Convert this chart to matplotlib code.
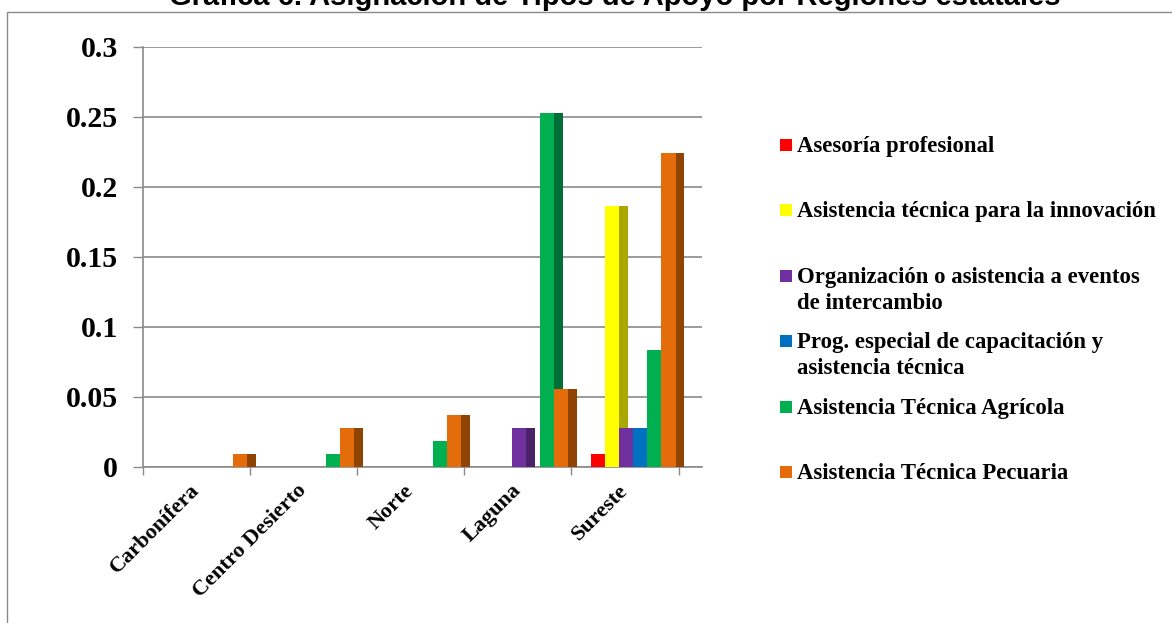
import numpy as np
import matplotlib.pyplot as plt
from matplotlib.patches import Rectangle

regiones = ['Carbonífera', 'Centro Desierto', 'Norte', 'Laguna', 'Sureste']

series = ['Asesoría profesional',
          'Asistencia técnica para la innovación',
          'Organización o asistencia a eventos\nde intercambio',
          'Prog. especial de capacitación y\nasistencia técnica',
          'Asistencia Técnica Agrícola',
          'Asistencia Técnica Pecuaria']

asesoria = [0, 0, 0, 0, 0.0089]
innovacion = [0, 0, 0, 0, 0.1864]
eventos = [0, 0, 0, 0.0274, 0.0274]
prog_especial = [0, 0, 0, 0, 0.0274]
agricola = [0, 0.0089, 0.0184, 0.2524, 0.0834]
pecuaria = [0.0089, 0.0274, 0.0369, 0.0553, 0.2243]

valores = [asesoria, innovacion, eventos, prog_especial, agricola, pecuaria]
colores = ['#FF0000', '#FFFF00', '#7030A0', '#0070C0', '#00B050', '#E46C0A']
sombras = ['#B00000', '#A8A800', '#4B2168', '#004E86', '#007038', '#8F4404']

W, H = 1172, 623
fig = plt.figure(figsize=(W / 100, H / 100), dpi=100)
ax = fig.add_axes([142.7 / W, 156.3 / H, (702 - 142.7) / W, 420 / H])

gris = '#8a8a8a'
serif = 'Liberation Serif'

# barras con efecto 3D: cara frontal + lateral oscuro
ancho = 0.1314
lado = 0.081
inicio = 0.184
x0 = np.arange(len(regiones))
for j, vals in enumerate(valores):
    x = x0 + inicio + j * ancho
    ax.bar(x, vals, width=ancho, align='edge', color=colores[j], lw=0, zorder=3 + 2 * j)
    ax.bar(x + ancho, vals, width=lado, align='edge', color=sombras[j], lw=0, zorder=2 + 2 * j)

ax.set_xlim(0, 560 / 107.3)
ax.set_ylim(0, 0.3)
yt = [0, 0.05, 0.1, 0.15, 0.2, 0.25, 0.3]
ax.set_yticks(yt, ['0', '0.05', '0.1', '0.15', '0.2', '0.25', '0.3'],
              fontfamily=serif, fontweight='bold', fontsize=21.5)
ax.yaxis.grid(True, color=gris, lw=1.2, zorder=0)
ax.tick_params(axis='y', length=7, width=1, color=gris, pad=11)

ax.set_xticks(np.arange(len(regiones) + 1))
ax.set_xticklabels([])
ax.tick_params(axis='x', which='major', length=6, width=1, color=gris, direction='out')
ax.set_xticks(x0 + 0.5, regiones, minor=True)
ax.tick_params(axis='x', which='minor', length=0, pad=15)
for lbl in ax.get_xticklabels(minor=True):
    lbl.set_fontfamily(serif)
    lbl.set_fontweight('bold')
    lbl.set_fontsize(16)
    lbl.set_rotation(45)
    lbl.set_ha('right')
    lbl.set_va('center')
    lbl.set_rotation_mode('anchor')

for s in ['top', 'right']:
    ax.spines[s].set_visible(False)
for s in ['left', 'bottom']:
    ax.spines[s].set_color(gris)
    ax.spines[s].set_linewidth(1.2)

# leyenda manual
y_leyenda = [145, 210, 275.7, 341, 406.7, 471.7]
for j, etiqueta in enumerate(series):
    yc = y_leyenda[j]
    fig.add_artist(Rectangle((780 / W, 1 - (yc + 6) / H), 12 / W, 12 / H,
                             transform=fig.transFigure, color=colores[j], lw=0))
    for k, linea in enumerate(etiqueta.split('\n')):
        fig.text(797 / W, 1 - (yc + 7 + 26 * k) / H, linea, ha='left', va='baseline',
                 fontfamily=serif, fontweight='bold', fontsize=16.4)

# borde del gráfico
fig.add_artist(Rectangle((7 / W, -0.1), 1.2, 1 - 11.7 / H + 0.1, transform=fig.transFigure,
                         fill=False, edgecolor=gris, lw=1))

fig.text(615 / W, 1 - 5 / H, 'Gráfica 6. Asignación de Tipos de Apoyo por Regiones estatales',
         ha='center', va='baseline', fontfamily='Liberation Sans', fontweight='bold', fontsize=21)

fig.savefig('out.png', dpi=100)
